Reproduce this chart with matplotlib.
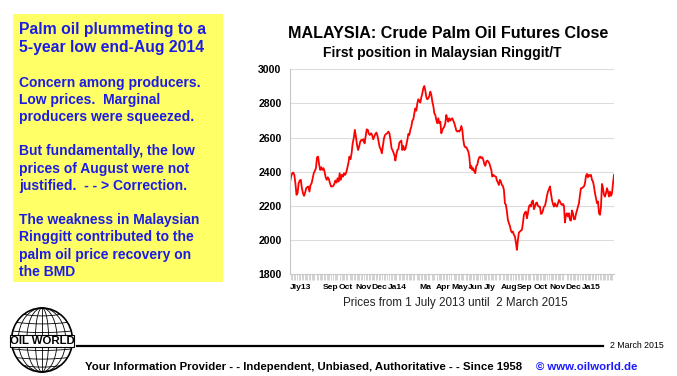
import numpy as np
import pandas as pd
import matplotlib
matplotlib.use("Agg")
import matplotlib.pyplot as plt
from matplotlib.patches import Rectangle, Ellipse

plt.rcParams["font.family"] = ["Liberation Sans", "DejaVu Sans"]

W, H = 677, 376

# Crude palm oil futures close, MYR/t in three stretches
price_a = [2336, 2371, 2390, 2395, 2381, 2332, 2264, 2274, 2332, 2348,
           2352, 2303, 2274, 2258, 2277, 2303, 2309, 2313, 2283, 2322,
           2332, 2361, 2391, 2406, 2420, 2484, 2488, 2440, 2410, 2426,
           2410, 2420, 2400, 2367, 2352, 2367, 2356, 2332, 2313, 2313,
           2316, 2328, 2348, 2336, 2361, 2342, 2391, 2352, 2381, 2371,
           2391, 2381, 2395, 2420, 2449, 2488, 2473, 2508, 2566, 2596,
           2645, 2606, 2557, 2527, 2547, 2576, 2586, 2582, 2590, 2566,
           2606, 2648, 2645, 2621, 2615, 2625, 2615, 2590, 2606, 2621,
           2629, 2609, 2576, 2543, 2531, 2508, 2551, 2596, 2615, 2621,
           2625, 2635, 2625, 2586, 2537, 2524, 2508, 2488]
dates_a = ("2013-07-01", "2014-01-14")

price_b = [2465, 2498, 2527, 2531, 2570, 2576, 2582, 2527, 2551, 2527,
           2531, 2557, 2586, 2621, 2615, 2645, 2664, 2699, 2707, 2742,
           2771, 2758, 2801, 2824, 2816, 2805, 2836, 2859, 2889, 2902,
           2875, 2836, 2824, 2830, 2844, 2869, 2850, 2811, 2785, 2742,
           2732, 2703, 2684, 2713, 2684, 2693, 2625, 2645, 2654, 2664,
           2684, 2732, 2707, 2693, 2713, 2699, 2707, 2713, 2699, 2684,
           2664, 2641, 2635, 2639, 2635, 2645, 2668, 2645, 2586, 2551,
           2543, 2543, 2531, 2518, 2488, 2420, 2434, 2410, 2420, 2400,
           2391, 2434, 2440, 2469, 2484, 2488, 2478, 2484, 2469, 2445,
           2434, 2459, 2465, 2459, 2449, 2430, 2410, 2371, 2381, 2375]
dates_b = ("2014-01-15", "2014-07-20")

price_c = [2371, 2348, 2336, 2322, 2352, 2342, 2322, 2316, 2293, 2215,
           2205, 2166, 2117, 2098, 2082, 2055, 2043, 2049, 2029, 2020,
           1984, 1941, 2000, 2043, 2049, 2055, 2059, 2098, 2147, 2160,
           2166, 2127, 2156, 2195, 2205, 2195, 2225, 2231, 2180, 2195,
           2215, 2219, 2199, 2195, 2195, 2152, 2156, 2172, 2195, 2199,
           2225, 2258, 2283, 2297, 2313, 2274, 2234, 2211, 2195, 2215,
           2199, 2195, 2215, 2234, 2225, 2211, 2205, 2211, 2199, 2102,
           2147, 2156, 2137, 2156, 2117, 2113, 2172, 2156, 2121, 2121,
           2152, 2172, 2195, 2215, 2264, 2303, 2303, 2309, 2313, 2332,
           2375, 2387, 2367, 2381, 2375, 2381, 2352, 2342, 2313, 2274,
           2244, 2215, 2225, 2156, 2147, 2195, 2328, 2303, 2264, 2254,
           2274, 2303, 2283, 2254, 2283, 2258, 2274, 2332, 2381]
dates_c = ("2014-07-23", "2015-03-02")

month_labels = ["Jly13", "", "Sep", "Oct", "Nov", "Dec", "Ja14", "", "Ma", "Apr",
                "May", "Jun", "Jly", "Aug", "Sep", "Oct", "Nov", "Dec", "Ja15", ""]
y_ticks = [1800, 2000, 2200, 2400, 2600, 2800, 3000]

headline = ["Palm oil plummeting to a", "5-year low end-Aug 2014"]
comment = ["Concern among producers.", "Low prices.  Marginal",
           "producers were squeezed.", "",
           "But fundamentally, the low", "prices of August were not",
           "justified.  - - > Correction.", "",
           "The weakness in Malaysian", "Ringgitt contributed to the",
           "palm oil price recovery on", "the BMD"]

series = []
for vals, (d0, d1) in [(price_a, dates_a), (price_b, dates_b), (price_c, dates_c)]:
    series.append(pd.Series(vals, index=pd.date_range(d0, d1, periods=len(vals))))
price = pd.concat(series)


def fx(x):
    return x / W


def fy(y):
    return 1 - y / H


fig = plt.figure(figsize=(W / 100, H / 100), dpi=100)

# yellow comment box
fig.add_artist(Rectangle((fx(12.7), fy(281.7)), 210 / W, 267.7 / H,
                         transform=fig.transFigure, facecolor="#ffff66",
                         edgecolor="none"))
blue = "#1c1ce6"
for i, line in enumerate(headline):
    fig.text(fx(19.3), fy(33.8 + 18.4 * i), line, color=blue, fontsize=11.3,
             fontweight="bold", va="baseline", ha="left")
for i, line in enumerate(comment):
    fig.text(fx(19.3), fy(86.7 + 17.2 * i), line, color=blue, fontsize=10,
             fontweight="bold", va="baseline", ha="left")

# main chart
ax = fig.add_axes([fx(290), fy(274), 324 / W, (274 - 69.3) / H])
ax.plot(price.index, price.values, color="#ff0000", lw=1.3)
ax.set_ylim(1800, 3000)
ax.set_xlim(pd.Timestamp("2013-07-01"), pd.Timestamp("2015-03-02"))
ax.set_yticks(y_ticks)
ax.set_yticklabels([str(v) for v in y_ticks], fontsize=7.6, fontweight="bold")
ax.tick_params(axis="y", length=0, pad=6)
ax.grid(axis="y", color="#dcdcdc", lw=0.8)
ax.set_axisbelow(True)

months = pd.date_range("2013-07-01", "2015-02-01", freq="MS")
ax.set_xticks(months)
ax.set_xticklabels(month_labels, fontsize=6.1, fontweight="bold", ha="left")
ax.tick_params(axis="x", which="major", length=0, pad=7.5)
ax.set_xticks(pd.bdate_range("2013-07-01", "2015-03-02")[::2], minor=True)
ax.tick_params(axis="x", which="minor", length=4, width=0.5, color="#c0c0c0",
               direction="out")
for s in ["top", "right"]:
    ax.spines[s].set_visible(False)
ax.spines["left"].set_color("#c8c8c8")
ax.spines["bottom"].set_color("#c8c8c8")

fig.text(fx(447.7), fy(34), "MALAYSIA: Crude Palm Oil Futures Close",
         fontsize=11.6, fontweight="bold", ha="center", va="center")
fig.text(fx(442.7), fy(53), "First position in Malaysian Ringgit/T",
         fontsize=10, fontweight="bold", ha="center", va="center")
fig.text(fx(342.7), fy(302.7), "Prices from 1 July 2013 until  2 March 2015",
         fontsize=8.4, ha="left", va="center", color="#222222")

# footer
fig.add_artist(plt.Line2D([fx(77), fx(603)], [fy(346), fy(346)],
                          transform=fig.transFigure, color="black", lw=1.6))
fig.text(fx(610), fy(346), "2 March 2015", fontsize=6.3, ha="left", va="center")
fig.text(fx(85), fy(366.7),
         "Your Information Provider - - Independent, Unbiased, Authoritative - - Since 1958",
         fontsize=8.2, fontweight="bold", ha="left", va="center")
fig.text(fx(637), fy(366.7), "\u00a9 www.oilworld.de", fontsize=8.2,
         fontweight="bold", ha="right", va="center", color="#1a1aff")

# OIL WORLD globe logo
lg = fig.add_axes([0, 0, 90 / W, 76 / H])
lg.set_xlim(0, 90)
lg.set_ylim(376, 300)
lg.axis("off")
cx, cy, rx, ry = 42, 340, 30.5, 32
lg.add_patch(Ellipse((cx, cy), 2 * rx, 2 * ry, facecolor="white",
                     edgecolor="black", lw=1.2))
for k in [0.22, 0.5, 0.78]:
    lg.add_patch(Ellipse((cx, cy), 2 * rx * k, 2 * ry, facecolor="none",
                         edgecolor="black", lw=0.6))
lg.plot([cx, cx], [cy - ry, cy + ry], color="black", lw=0.6)
t = np.linspace(-1, 1, 50)
for lat in [-0.8, -0.55, -0.28, 0.28, 0.55, 0.8]:
    half = np.sqrt(1 - lat ** 2)
    lg.plot(cx + rx * half * t, cy + ry * lat + 1.5 * (1 - t ** 2),
            color="black", lw=0.6)
lg.add_patch(Rectangle((cx - rx - 1.5, 334.5), 2 * rx + 3, 12, facecolor="white",
                       edgecolor="black", lw=0.8, zorder=5))
lg.text(cx, 340.5, "OIL WORLD", fontsize=8.2, fontweight="bold", ha="center",
        va="center", zorder=6)

fig.savefig("out.png", dpi=100)
